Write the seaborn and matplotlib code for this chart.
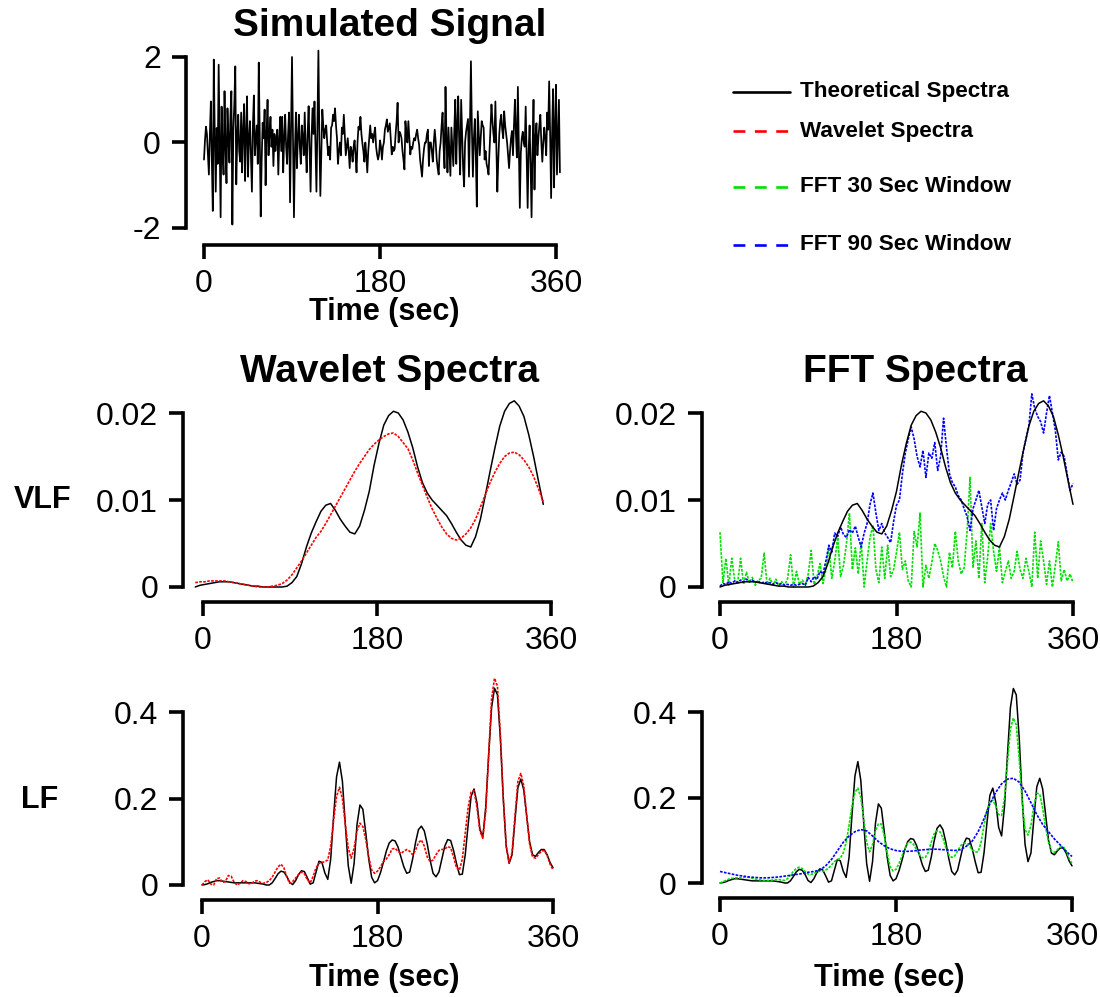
import numpy as np
import matplotlib
matplotlib.use("Agg")
import matplotlib.pyplot as plt
from matplotlib.lines import Line2D
import seaborn as sns

# ---------------------------------------------------------------- data
# simulated signal, 1 sample per second
signal = [
    -0.40, 0.05, 0.37, 0.20, -0.30, -0.75, 0.20, 0.96, -0.40, -1.60,
    1.94, 0.20, -1.15, 0.34, -0.50, 1.82, 0.10, -1.75, 0.84, -0.20,
    -0.75, 1.20, -0.10, -0.95, 0.80, 0.10, -0.47, 0.60, 1.20, -1.92,
    0.30, 0.90, 1.78, -0.98, 0.10, 0.65, -0.20, -0.45, 0.70, -0.70,
    0.30, 0.90, -0.90, 0.20, 1.08, -0.80, 0.10, 0.50, -0.30, -1.15,
    0.40, 1.10, -0.30, 0.10, 0.40, -0.50, 1.87, 0.20, -1.73, -0.40,
    0.46, 0.10, 0.77, -1.00, 0.20, 1.00, -0.30, 0.20, 0.60, -0.10,
    0.30, -0.55, 0.20, -0.20, 0.10, 0.30, -0.75, 0.10, 0.60, -0.20,
    0.60, -0.70, 0.10, 0.65, -0.10, -0.50, 0.20, 0.70, -1.40, 0.30,
    2.00, 0.10, -1.75, -0.20, 0.70, -0.60, 0.10, 0.65, -0.10, -0.50,
    0.40, 0.10, -0.30, 0.70, -0.10, -0.70, 0.20, 0.85, -0.20, -1.15,
    0.10, 0.80, 0.20, 0.96, -0.10, -1.15, 0.40, 2.15, 0.10, -1.25,
    -0.20, 0.77, 0.40, 0.10, 0.30, 0.40, 0.00, -0.30, -0.10, -0.40,
    0.35, 0.40, 0.65, 0.50, 0.80, 0.40, 0.10, -0.50, -0.20, 0.00,
    -0.30, 0.35, 0.20, 0.65, 0.20, -0.30, -0.10, 0.10, -0.20, -0.60,
    -0.10, -0.20, -0.45, -0.10, 0.05, -0.30, -0.70, 0.00, 0.37, 0.30,
    0.60, 0.20, -0.02, -0.20, -0.45, 0.00, -0.30, -0.70, -0.20, 0.10,
    0.40, 0.10, 0.20, 0.00, 0.20, 0.35, -0.10, -0.28, -0.40, -0.28,
    0.05, -0.10, -0.40, -0.10, 0.00, 0.30, 0.40, 0.54, 0.25, 0.35,
    0.45, 0.10, -0.28, -0.10, -0.20, -0.15, 0.20, 0.50, 0.93, 0.00,
    0.25, 0.20, 0.10, -0.20, -0.40, -0.63, 0.50, 0.20, 0.00, 0.50,
    0.10, -0.28, -0.10, -0.15, 0.00, 0.10, 0.05, 0.20, 0.30, 0.10,
    -0.05, -0.40, -0.60, -0.80, -0.40, -0.15, 0.00, 0.00, 0.20, 0.30,
    -0.55, 0.00, 0.00, -0.20, -0.45, 0.00, 0.30, 0.00, -0.40, -0.60,
    -0.75, -0.20, 0.00, 0.40, 0.70, -0.10, -0.60, 1.30, 0.10, -0.70,
    0.35, -0.20, -0.78, 0.35, -0.10, -0.55, 0.30, 1.00, -0.50, 0.40,
    1.08, 0.00, -0.75, 1.00, 0.20, -0.60, -1.03, 0.00, 0.25, 0.40,
    0.55, -0.80, 0.40, 1.90, 0.30, -0.80, 0.10, 0.55, -0.30, -1.50,
    0.73, 0.20, -0.30, 0.10, 0.50, 0.40, 0.35, -0.40, -0.20, -0.50,
    -0.60, -0.75, -0.20, 0.40, 0.89, 0.50, 0.20, 0.00, 0.96, -0.10,
    -1.15, -0.40, 0.20, 0.50, 0.65, 0.30, 0.10, 0.73, 0.40, 0.20,
    0.00, -0.30, -0.60, -0.20, 0.10, 0.27, -0.30, 0.40, 1.00, 0.20,
    -0.35, 1.30, -0.20, -1.53, -0.25, 0.10, 0.25, 0.00, -0.10, 0.84,
    -0.30, -1.53, -0.20, 0.40, -0.50, -1.75, -0.20, 1.00, -1.10, 0.10,
    0.45, -0.30, 0.10, 0.40, 0.65, 0.00, -0.45, 0.00, 0.35, 0.10,
    -0.30, 0.70, 0.30, 1.43, 0.20, -1.30, 0.20, 1.25, -1.05, 0.40,
    1.35, -0.75, 0.10, 1.00, -0.70,
]
signal_time = np.arange(len(signal))

# VLF power, 5 s steps
vlf_time = np.arange(0, 361, 5)
vlf_wave_time = np.arange(-8, 353, 5)
vlf_theory = [
    0.0000, 0.0002, 0.0003, 0.0004, 0.0005, 0.0006, 0.0006, 0.0006, 0.0005, 0.0004,
    0.0003, 0.0002, 0.0001, 0.0001, 0.0000, 0.0000, 0.0000, 0.0000, 0.0000, 0.0001,
    0.0005, 0.0012, 0.0027, 0.0046, 0.0062, 0.0075, 0.0087, 0.0094, 0.0096, 0.0088,
    0.0078, 0.0070, 0.0063, 0.0061, 0.0070, 0.0088, 0.0110, 0.0140, 0.0165, 0.0186,
    0.0197, 0.0202, 0.0200, 0.0192, 0.0178, 0.0160, 0.0138, 0.0120, 0.0108, 0.0100,
    0.0094, 0.0088, 0.0082, 0.0073, 0.0063, 0.0054, 0.0048, 0.0046, 0.0058, 0.0078,
    0.0105, 0.0133, 0.0160, 0.0185, 0.0202, 0.0211, 0.0214, 0.0208, 0.0196, 0.0175,
    0.0150, 0.0122, 0.0095,
]
vlf_wavelet = [
    0.0005, 0.0006, 0.0006, 0.0007, 0.0007, 0.0007, 0.0007, 0.0006, 0.0005, 0.0004,
    0.0003, 0.0002, 0.0001, 0.0000, 0.0000, 0.0000, 0.0001, 0.0002, 0.0004, 0.0008,
    0.0014, 0.0022, 0.0030, 0.0039, 0.0048, 0.0057, 0.0064, 0.0073, 0.0083, 0.0093,
    0.0103, 0.0113, 0.0123, 0.0133, 0.0142, 0.0150, 0.0158, 0.0164, 0.0169, 0.0173,
    0.0176, 0.0177, 0.0173, 0.0166, 0.0159, 0.0146, 0.0131, 0.0117, 0.0103, 0.0090,
    0.0079, 0.0069, 0.0061, 0.0056, 0.0054, 0.0056, 0.0061, 0.0068, 0.0078, 0.0092,
    0.0106, 0.0120, 0.0132, 0.0142, 0.0150, 0.0154, 0.0155, 0.0152, 0.0146, 0.0138,
    0.0127, 0.0113, 0.0098,
]

# VLF FFT estimates, 3 s steps
fft_time = np.arange(0, 361, 3)
vlf_fft90 = [
    0.0001, 0.0004, 0.0003, 0.0006, 0.0004, 0.0007, 0.0005, 0.0008, 0.0006, 0.0009,
    0.0006, 0.0008, 0.0005, 0.0007, 0.0004, 0.0006, 0.0004, 0.0005, 0.0003, 0.0005,
    0.0003, 0.0004, 0.0002, 0.0003, 0.0002, 0.0003, 0.0002, 0.0003, 0.0004, 0.0002,
    0.0011, 0.0006, 0.0012, 0.0009, 0.0018, 0.0015, 0.0030, 0.0048, 0.0040, 0.0062,
    0.0058, 0.0069, 0.0060, 0.0057, 0.0066, 0.0062, 0.0070, 0.0057, 0.0046, 0.0062,
    0.0073, 0.0095, 0.0108, 0.0085, 0.0065, 0.0073, 0.0062, 0.0057, 0.0051, 0.0075,
    0.0094, 0.0100, 0.0130, 0.0154, 0.0170, 0.0184, 0.0170, 0.0150, 0.0138, 0.0157,
    0.0126, 0.0154, 0.0148, 0.0166, 0.0134, 0.0150, 0.0194, 0.0160, 0.0130, 0.0120,
    0.0115, 0.0105, 0.0100, 0.0090, 0.0081, 0.0065, 0.0090, 0.0100, 0.0111, 0.0092,
    0.0073, 0.0095, 0.0100, 0.0065, 0.0090, 0.0100, 0.0108, 0.0100, 0.0111, 0.0120,
    0.0130, 0.0118, 0.0123, 0.0154, 0.0170, 0.0185, 0.0222, 0.0205, 0.0196, 0.0190,
    0.0177, 0.0200, 0.0220, 0.0200, 0.0180, 0.0146, 0.0155, 0.0150, 0.0130, 0.0111,
    0.0119,
]
vlf_fft30 = [
    0.0063, 0.0005, 0.0033, 0.0002, 0.0033, 0.0008, 0.0004, 0.0033, 0.0003, 0.0017,
    0.0005, 0.0011, 0.0002, 0.0008, 0.0010, 0.0039, 0.0003, 0.0010, 0.0002, 0.0009,
    0.0001, 0.0006, 0.0002, 0.0010, 0.0037, 0.0000, 0.0018, 0.0003, 0.0008, 0.0002,
    0.0015, 0.0042, 0.0003, 0.0012, 0.0027, 0.0004, 0.0020, 0.0046, 0.0010, 0.0030,
    0.0057, 0.0012, 0.0025, 0.0050, 0.0085, 0.0020, 0.0045, 0.0015, 0.0052, 0.0000,
    0.0030, 0.0057, 0.0071, 0.0020, 0.0005, 0.0046, 0.0010, 0.0048, 0.0012, 0.0020,
    0.0040, 0.0063, 0.0020, 0.0030, 0.0007, 0.0000, 0.0064, 0.0046, 0.0085, 0.0000,
    0.0025, 0.0010, 0.0028, 0.0050, 0.0042, 0.0030, 0.0012, 0.0000, 0.0040, 0.0022,
    0.0064, 0.0030, 0.0015, 0.0022, 0.0064, 0.0126, 0.0022, 0.0053, 0.0010, 0.0073,
    0.0005, 0.0035, 0.0073, 0.0041, 0.0018, 0.0046, 0.0005, 0.0018, 0.0030, 0.0010,
    0.0018, 0.0041, 0.0020, 0.0010, 0.0033, 0.0018, 0.0000, 0.0063, 0.0010, 0.0053,
    0.0030, 0.0003, 0.0030, 0.0000, 0.0025, 0.0052, 0.0007, 0.0020, 0.0007, 0.0015,
    0.0005,
]

# LF power, 3 s steps
lf_time = np.arange(0, 361, 3)
lf_theory = [
    0.000, 0.001, 0.003, 0.006, 0.008, 0.010, 0.010, 0.009, 0.008, 0.007,
    0.006, 0.005, 0.005, 0.005, 0.005, 0.005, 0.005, 0.005, 0.005, 0.004,
    0.003, 0.002, 0.000, 0.000, 0.005, 0.015, 0.026, 0.032, 0.030, 0.020,
    0.006, 0.001, 0.010, 0.024, 0.033, 0.031, 0.017, 0.002, 0.005, 0.030,
    0.055, 0.052, 0.028, 0.013, 0.060, 0.160, 0.250, 0.284, 0.240, 0.140,
    0.045, 0.004, 0.050, 0.140, 0.185, 0.175, 0.120, 0.060, 0.018, 0.005,
    0.010, 0.028, 0.052, 0.078, 0.097, 0.104, 0.102, 0.088, 0.065, 0.042,
    0.027, 0.030, 0.060, 0.098, 0.128, 0.136, 0.125, 0.095, 0.057, 0.027,
    0.019, 0.030, 0.060, 0.090, 0.105, 0.103, 0.080, 0.050, 0.024, 0.025,
    0.070, 0.140, 0.205, 0.222, 0.190, 0.130, 0.110, 0.180, 0.300, 0.410,
    0.455, 0.440, 0.340, 0.200, 0.090, 0.050, 0.070, 0.150, 0.225, 0.245,
    0.220, 0.160, 0.100, 0.070, 0.066, 0.075, 0.082, 0.082, 0.070, 0.052,
    0.040,
]
lf_wavelet = [
    0.000, 0.008, 0.012, 0.002, 0.000, 0.015, 0.016, 0.006, 0.008, 0.022,
    0.020, 0.006, 0.000, 0.004, 0.010, 0.008, 0.003, 0.004, 0.009, 0.010,
    0.006, 0.004, 0.006, 0.010, 0.018, 0.030, 0.042, 0.048, 0.040, 0.018,
    0.004, 0.008, 0.016, 0.024, 0.030, 0.026, 0.012, 0.005, 0.020, 0.040,
    0.050, 0.052, 0.054, 0.058, 0.090, 0.150, 0.205, 0.226, 0.200, 0.140,
    0.085, 0.062, 0.085, 0.125, 0.143, 0.135, 0.105, 0.065, 0.035, 0.027,
    0.032, 0.042, 0.054, 0.060, 0.070, 0.083, 0.085, 0.078, 0.073, 0.078,
    0.082, 0.078, 0.070, 0.080, 0.098, 0.104, 0.090, 0.065, 0.054, 0.058,
    0.070, 0.080, 0.082, 0.083, 0.089, 0.086, 0.065, 0.040, 0.034, 0.060,
    0.120, 0.180, 0.215, 0.218, 0.180, 0.125, 0.108, 0.170, 0.300, 0.430,
    0.478, 0.460, 0.350, 0.200, 0.090, 0.052, 0.075, 0.160, 0.240, 0.258,
    0.230, 0.160, 0.095, 0.065, 0.062, 0.070, 0.078, 0.080, 0.068, 0.048,
    0.035,
]
lf_fft30 = [
    0.000, 0.003, 0.006, 0.009, 0.011, 0.012, 0.012, 0.012, 0.013, 0.014,
    0.013, 0.011, 0.009, 0.008, 0.007, 0.006, 0.006, 0.006, 0.007, 0.008,
    0.008, 0.007, 0.006, 0.010, 0.018, 0.027, 0.034, 0.037, 0.034, 0.027,
    0.021, 0.020, 0.022, 0.026, 0.028, 0.027, 0.030, 0.035, 0.042, 0.050,
    0.054, 0.058, 0.070, 0.095, 0.135, 0.180, 0.212, 0.222, 0.200, 0.150,
    0.095, 0.073, 0.090, 0.122, 0.138, 0.138, 0.110, 0.070, 0.038, 0.028,
    0.032, 0.045, 0.062, 0.080, 0.093, 0.096, 0.090, 0.078, 0.066, 0.059,
    0.060, 0.072, 0.095, 0.115, 0.122, 0.120, 0.105, 0.082, 0.066, 0.060,
    0.063, 0.075, 0.087, 0.093, 0.093, 0.087, 0.078, 0.072, 0.073, 0.095,
    0.135, 0.170, 0.190, 0.194, 0.180, 0.160, 0.158, 0.200, 0.280, 0.360,
    0.386, 0.370, 0.290, 0.190, 0.125, 0.112, 0.135, 0.180, 0.210, 0.208,
    0.175, 0.130, 0.095, 0.075, 0.072, 0.078, 0.084, 0.085, 0.075, 0.058,
    0.045,
]
lf_fft90_time = np.arange(0, 361, 6)
lf_fft90 = [
    0.027, 0.024, 0.021, 0.018, 0.016, 0.014, 0.013, 0.012, 0.012, 0.013,
    0.014, 0.016, 0.018, 0.020, 0.022, 0.025, 0.027, 0.030, 0.040, 0.055,
    0.075, 0.095, 0.110, 0.120, 0.125, 0.122, 0.110, 0.097, 0.087, 0.080,
    0.076, 0.074, 0.074, 0.075, 0.077, 0.078, 0.079, 0.079, 0.078, 0.077,
    0.076, 0.078, 0.086, 0.098, 0.120, 0.150, 0.185, 0.212, 0.232, 0.243,
    0.245, 0.236, 0.215, 0.188, 0.160, 0.137, 0.120, 0.103, 0.089, 0.074,
    0.062,
]

time_ticks = [0, 180, 360]
signal_ticks = [-2, 0, 2]
signal_ticklabels = ["-2", "0", "2"]
vlf_ticks = [0, 0.01, 0.02]
vlf_ticklabels = ["0", "0.01", "0.02"]
lf_ticks = [0, 0.2, 0.4]
lf_ticklabels = ["0", "0.2", "0.4"]

legend_labels = ["Theoretical Spectra", "Wavelet Spectra",
                 "FFT 30 Sec Window", "FFT 90 Sec Window"]
C_THEORY, C_WAVE, C_FFT30, C_FFT90 = "#000000", "#ff0000", "#00e000", "#0000ff"

# ---------------------------------------------------------------- style
sns.set_theme(style="ticks")
plt.rcParams["font.family"] = ["Liberation Sans", "DejaVu Sans"]

W, H = 1100, 997
fig = plt.figure(figsize=(W / 100, H / 100), dpi=100)


def make_axes(x0, x360, left, y_lo, y_lo_px, y_hi, y_hi_px, bottom, yticks, ylabels):
    """Axes whose left/bottom spines sit at pixel columns/rows left/bottom."""
    right_px = x360 + 14
    top_px = y_hi_px - 14
    ax = fig.add_axes([left / W, 1 - bottom / H, (right_px - left) / W, (bottom - top_px) / H])
    sx = (x360 - x0) / 360.0
    sy = (y_lo_px - y_hi_px) / (y_hi - y_lo)
    ax.set_xlim((left - x0) / sx, (right_px - x0) / sx)
    ax.set_ylim(y_lo - (bottom - y_lo_px) / sy, y_hi + (y_hi_px - top_px) / sy)
    for s in ("top", "right"):
        ax.spines[s].set_visible(False)
    for s in ("left", "bottom"):
        ax.spines[s].set_linewidth(2.6)
        ax.spines[s].set_color("black")
        ax.spines[s].set_capstyle("projecting")
    ax.spines["left"].set_bounds(y_lo, y_hi)
    ax.spines["bottom"].set_bounds(0, 360)
    ax.set_xticks(time_ticks)
    ax.set_xticklabels([str(t) for t in time_ticks])
    ax.set_yticks(yticks)
    ax.set_yticklabels(ylabels)
    ax.tick_params(axis="both", direction="out", length=10, width=2.6,
                   color="black", labelcolor="black", labelsize=23)
    ax.tick_params(axis="y", pad=8)
    ax.tick_params(axis="x", pad=7)
    ax.patch.set_alpha(0)
    return ax


def draw(ax, x, y, color, solid=True, lw=1.0):
    kw = dict(ls="-") if solid else dict(ls=(0, (1.6, 0.8)))
    sns.lineplot(x=x, y=y, ax=ax, color=color, lw=lw, estimator=None,
                 sort=False, legend=False, clip_on=False, **kw)
    ax.set_xlabel("")
    ax.set_ylabel("")


# simulated signal
ax_sig = make_axes(204, 556, 186, -2, 228, 2, 57, 245, signal_ticks, signal_ticklabels)
draw(ax_sig, signal_time, signal, "black", lw=1.25)

# VLF panels
ax_vw = make_axes(203, 551, 183, 0, 587, 0.02, 413, 602, vlf_ticks, vlf_ticklabels)
draw(ax_vw, vlf_wave_time, vlf_theory, C_THEORY, lw=1.1)
draw(ax_vw, vlf_wave_time, vlf_wavelet, C_WAVE, solid=False, lw=1.2)

ax_vf = make_axes(720, 1073, 702, 0, 587, 0.02, 413, 602, vlf_ticks, vlf_ticklabels)
draw(ax_vf, fft_time, vlf_fft30, C_FFT30, solid=False, lw=1.2)
draw(ax_vf, fft_time, vlf_fft90, C_FFT90, solid=False, lw=1.2)
draw(ax_vf, vlf_time, vlf_theory, C_THEORY, lw=1.1)

# LF panels
ax_lw = make_axes(202, 553, 183, 0, 885, 0.4, 712, 900, lf_ticks, lf_ticklabels)
draw(ax_lw, lf_time, lf_theory, C_THEORY, lw=1.1)
draw(ax_lw, lf_time, lf_wavelet, C_WAVE, solid=False, lw=1.2)

ax_lf = make_axes(720, 1072, 702, 0, 883, 0.4, 712, 898, lf_ticks, lf_ticklabels)
draw(ax_lf, lf_time, lf_theory, C_THEORY, lw=1.1)
draw(ax_lf, lf_time, lf_fft30, C_FFT30, solid=False, lw=1.2)
draw(ax_lf, lf_fft90_time, lf_fft90, C_FFT90, solid=False, lw=1.2)


# ---------------------------------------------------------------- text
def ftext(x, y, s, size, **kw):
    fig.text(x / W, 1 - y / H, s, fontsize=size, fontweight="bold",
             ha=kw.pop("ha", "center"), va=kw.pop("va", "center"), color="black", **kw)


ftext(390, 26, "Simulated Signal", 28)
ftext(390, 372, "Wavelet Spectra", 28)
ftext(915, 372, "FFT Spectra", 28)
ftext(384, 312, "Time (sec)", 22)
ftext(384, 978, "Time (sec)", 22)
ftext(889, 978, "Time (sec)", 22)
ftext(43, 500, "VLF", 22)
ftext(40, 800, "LF", 22)

# legend
legend_rows = [92, 131, 187, 245]
legend_colors = [C_THEORY, C_WAVE, C_FFT30, C_FFT90]
for row, col, lab, solid in zip(legend_rows, legend_colors, legend_labels,
                                [True, False, False, False]):
    yy = 1 - row / H
    line = Line2D([733 / W, 790 / W], [yy, yy], transform=fig.transFigure,
                  color=col, lw=1.9, ls="-" if solid else (0, (4.5, 3.6)))
    fig.add_artist(line)
    ftext(800, row, lab, 16.2, ha="left")

fig.savefig("out.png", dpi=100)
